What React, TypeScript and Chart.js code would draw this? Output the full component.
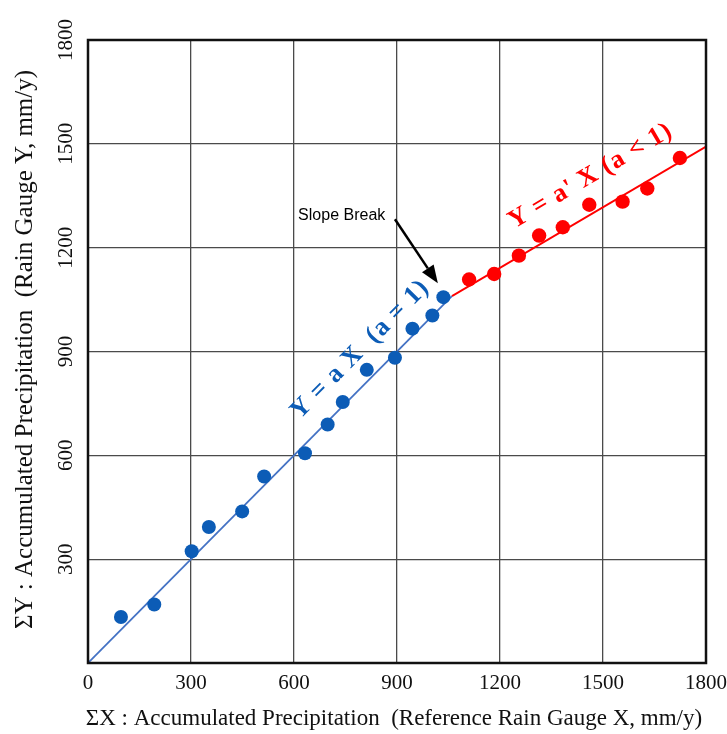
import React, { useEffect, useRef } from "react";
import { Chart, registerables } from "chart.js";

Chart.register(...registerables);

const xTickValues = [0, 300, 600, 900, 1200, 1500, 1800];
const yTickValues = [300, 600, 900, 1200, 1500, 1800];

const blueX = [96, 193, 302, 352, 449, 513, 632, 698, 742, 812, 894, 945, 1003, 1035];
const blueY = [133, 169, 323, 393, 438, 539, 606, 689, 754, 847, 882, 966, 1004, 1057];

const redX = [1110, 1183, 1255, 1314, 1383, 1460, 1557, 1629, 1724];
const redY = [1108, 1124, 1177, 1235, 1259, 1324, 1333, 1371, 1459];

const blueLineX = [0, 1060];
const blueLineY = [0, 1060];
const redLineX = [1060, 1800];
const redLineY = [1060, 1492];

const xTitle = "ΣX : Accumulated Precipitation  (Reference Rain Gauge X, mm/y)";
const yTitle = "ΣY : Accumulated Precipitation  (Rain Gauge Y, mm/y)";
const blueLabel = "Y = a X  (a = 1)";
const redLabel = "Y = a' X (a < 1)";
const breakLabel = "Slope Break";

const BLUE = "#0c5cb6";
const BLUE_LINE = "#4472c4";
const RED = "#ff0000";

const zip = (xs: number[], ys: number[]) => xs.map((x, i) => ({ x, y: ys[i] }));

const overlayPlugin = {
  id: "overlay",
  afterDraw(chart: any) {
    const { ctx, chartArea, scales } = chart;
    const sx = scales.x;
    const sy = scales.y;
    const px = (v: number) => sx.getPixelForValue(v);
    const py = (v: number) => sy.getPixelForValue(v);
    ctx.save();

    // frame
    ctx.strokeStyle = "#111";
    ctx.lineWidth = 2.5;
    ctx.strokeRect(chartArea.left, chartArea.top, chartArea.right - chartArea.left, chartArea.bottom - chartArea.top);

    // x tick labels
    ctx.fillStyle = "#111";
    ctx.font = "21px 'Liberation Serif'";
    ctx.textAlign = "center";
    ctx.textBaseline = "middle";
    xTickValues.forEach((v) => ctx.fillText(String(v), px(v), chartArea.bottom + 20));

    // y tick labels (rotated)
    yTickValues.forEach((v) => {
      ctx.save();
      ctx.translate(chartArea.left - 22, py(v));
      ctx.rotate(-Math.PI / 2);
      ctx.fillText(String(v), 0, 0);
      ctx.restore();
    });

    // axis titles
    ctx.font = "23px 'Liberation Serif'";
    ctx.fillText(xTitle, (chartArea.left + chartArea.right) / 2 - 3, chartArea.bottom + 56);
    ctx.save();
    ctx.font = "25px 'Liberation Serif'";
    ctx.translate(25, (chartArea.top + chartArea.bottom) / 2 - 2);
    ctx.rotate(-Math.PI / 2);
    ctx.fillText(yTitle, 0, 0);
    ctx.restore();

    // rotated annotations along lines
    const drawAlong = (text: string, color: string, ax: number, ay: number, lx: number[], ly: number[]) => {
      const ang = Math.atan2(py(ly[1]) - py(ly[0]), px(lx[1]) - px(lx[0]));
      ctx.save();
      ctx.translate(px(ax), py(ay));
      ctx.rotate(ang);
      ctx.font = "bold 26px 'Liberation Serif'";
      (ctx as any).letterSpacing = "1px";
      ctx.fillStyle = color;
      ctx.textAlign = "left";
      ctx.textBaseline = "alphabetic";
      ctx.fillText(text, 0, 0);
      ctx.restore();
    };
    drawAlong(blueLabel, BLUE, 617, 702, blueLineX, blueLineY);
    drawAlong(redLabel, RED, 1241, 1254, redLineX, redLineY);

    // slope break label and arrow
    ctx.font = "16px 'Liberation Sans'";
    ctx.fillStyle = "#000";
    ctx.textAlign = "left";
    ctx.textBaseline = "middle";
    ctx.fillText(breakLabel, px(612), py(1294));

    const x0 = px(894), y0 = py(1282), x1 = px(1019), y1 = py(1097);
    const a = Math.atan2(y1 - y0, x1 - x0);
    const hl = 18, hw = 7;
    const bx = x1 - hl * Math.cos(a), by = y1 - hl * Math.sin(a);
    ctx.strokeStyle = "#000";
    ctx.lineWidth = 2.5;
    ctx.beginPath();
    ctx.moveTo(x0, y0);
    ctx.lineTo(bx, by);
    ctx.stroke();
    ctx.beginPath();
    ctx.moveTo(x1, y1);
    ctx.lineTo(bx + hw * Math.sin(a), by - hw * Math.cos(a));
    ctx.lineTo(bx - hw * Math.sin(a), by + hw * Math.cos(a));
    ctx.closePath();
    ctx.fillStyle = "#000";
    ctx.fill();

    ctx.restore();
  },
};

export default function App() {
  const ref = useRef<HTMLCanvasElement | null>(null);
  useEffect(() => {
    if (!ref.current) return;
    const chart = new Chart(ref.current, {
      type: "scatter",
      data: {
        datasets: [
          {
            data: zip(blueLineX, blueLineY),
            showLine: true,
            borderColor: BLUE_LINE,
            borderWidth: 1.8,
            pointRadius: 0,
            order: 3,
          },
          {
            data: zip(redLineX, redLineY),
            showLine: true,
            borderColor: RED,
            borderWidth: 1.8,
            pointRadius: 0,
            order: 3,
          },
          {
            data: zip(blueX, blueY),
            backgroundColor: BLUE,
            borderColor: BLUE,
            borderWidth: 0,
            pointRadius: 7,
            order: 1,
          },
          {
            data: zip(redX, redY),
            backgroundColor: RED,
            borderColor: RED,
            borderWidth: 0,
            pointRadius: 7.2,
            order: 1,
          },
        ],
      },
      options: {
        responsive: false,
        animation: false,
        events: [],
        layout: { padding: { top: 40, right: 21, left: 0, bottom: 0 } },
        plugins: { legend: { display: false }, tooltip: { enabled: false } },
        scales: {
          x: {
            type: "linear",
            min: 0,
            max: 1800,
            ticks: { display: false, stepSize: 300 },
            grid: { color: "#4a4a4a", lineWidth: 1.3, drawTicks: false },
            border: { display: false },
            afterFit: (s: any) => {
              s.height = 71;
            },
          },
          y: {
            type: "linear",
            min: 0,
            max: 1800,
            ticks: { display: false, stepSize: 300 },
            grid: { color: "#4a4a4a", lineWidth: 1.3, drawTicks: false },
            border: { display: false },
            afterFit: (s: any) => {
              s.width = 88;
            },
          },
        },
      },
      plugins: [overlayPlugin],
    });
    return () => chart.destroy();
  }, []);
  return (
    <div style={{ position: "absolute", left: 0, top: 0, width: 727, height: 734, background: "#fff" }}>
      <canvas ref={ref} width={727} height={734} style={{ display: "block" }} />
    </div>
  );
}
